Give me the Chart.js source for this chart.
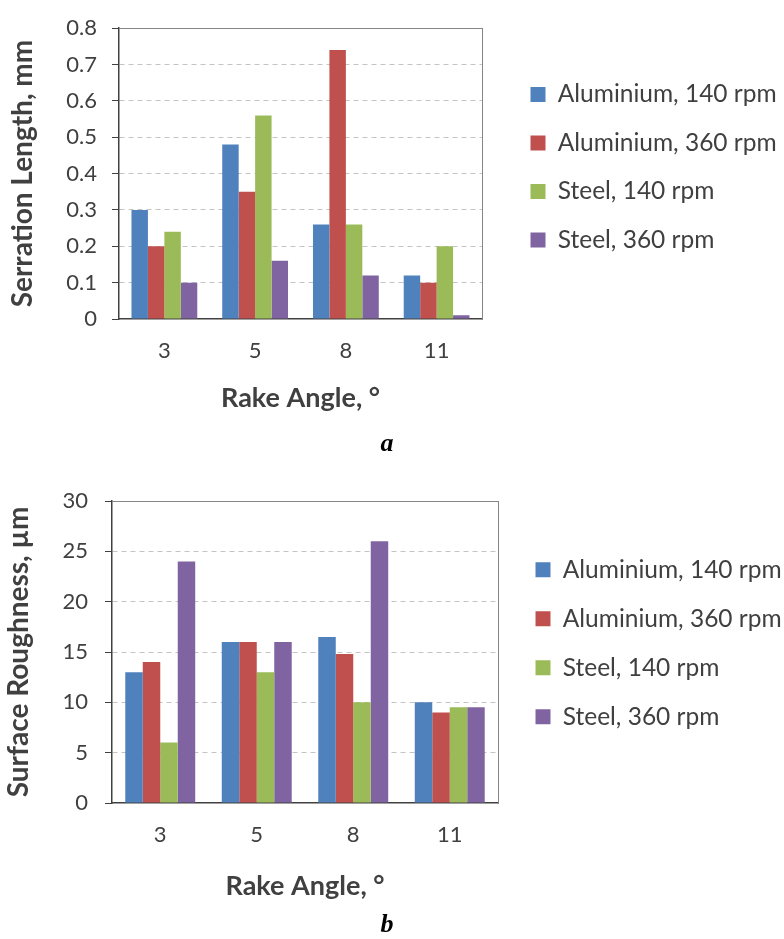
<!DOCTYPE html>
<html>
<head>
<meta charset="utf-8">
<title>Serration length and surface roughness vs rake angle</title>
<script src="https://cdn.jsdelivr.net/npm/chart.js@4.4.1/dist/chart.umd.min.js"></script>
<style>
  html, body { margin: 0; padding: 0; background: #fff; }
  canvas { display: block; }
</style>
</head>
<body>
<canvas id="serrationChart" width="784" height="470"></canvas>
<canvas id="roughnessChart" width="784" height="469"></canvas>
<script>
const rakeAngles = ['3', '5', '8', '11'];
const seriesNames = ['Aluminium, 140 rpm', 'Aluminium, 360 rpm', 'Steel, 140 rpm', 'Steel, 360 rpm'];
const seriesColors = ['#4F81BD', '#C0504D', '#9BBB59', '#8064A2'];

// chart a - serration length, mm
const serrationAl140 = [0.30, 0.48, 0.26, 0.12];
const serrationAl360 = [0.20, 0.35, 0.74, 0.10];
const serrationSt140 = [0.24, 0.56, 0.26, 0.20];
const serrationSt360 = [0.10, 0.16, 0.12, 0.01];

// chart b - surface roughness, µm
const roughnessAl140 = [13, 16, 16.5, 10];
const roughnessAl360 = [14, 16, 14.8, 9];
const roughnessSt140 = [6, 13, 10, 9.5];
const roughnessSt360 = [24, 16, 26, 9.5];

const textColor = '#404040';
const baseFont = 'Lato, "Open Sans", sans-serif';
const letterFont = '"Liberation Serif", "Times New Roman", serif';

// solid grey line along the top of the plot area
const plotFrame = {
    id: 'plotFrame',
    beforeDatasetsDraw(chart) {
        const { ctx, chartArea: a } = chart;
        ctx.save();
        ctx.strokeStyle = '#868686';
        ctx.lineWidth = 1;
        ctx.beginPath();
        ctx.moveTo(a.left, Math.round(a.top) + 0.5);
        ctx.lineTo(a.right, Math.round(a.top) + 0.5);
        ctx.stroke();
        ctx.restore();
    }
};

function buildChart(canvasId, cfg) {
    return new Chart(document.getElementById(canvasId), {
        type: 'bar',
        data: {
            labels: rakeAngles,
            datasets: cfg.values.map((vals, i) => ({
                label: seriesNames[i],
                data: vals,
                backgroundColor: seriesColors[i],
                borderWidth: 0,
                categoryPercentage: 0.725,
                barPercentage: 1
            }))
        },
        options: {
            responsive: false,
            animation: false,
            devicePixelRatio: 1,
            // left -10 so the a/b caption centres at x=387 like the original
            layout: { padding: { top: cfg.padTop, right: 0, bottom: 0, left: -10 } },
            scales: {
                x: {
                    grid: { display: false },
                    border: { display: true, color: textColor, width: 1.5 },
                    ticks: { color: textColor, padding: 11, font: { family: baseFont, size: 22 } },
                    title: {
                        display: true,
                        text: 'Rake Angle, °',
                        color: textColor,
                        font: { family: baseFont, size: 27, weight: 'bold' },
                        padding: { top: 0, bottom: 0 }
                    },
                    afterFit: s => { s.height = cfg.xHeight; }
                },
                y: {
                    min: 0,
                    max: cfg.max,
                    ticks: {
                        stepSize: cfg.step,
                        color: textColor,
                        padding: cfg.tickPad,
                        font: { family: baseFont, size: 22 }
                    },
                    grid: {
                        color: c => (c.tick && c.tick.value === 0) ? 'rgba(0,0,0,0)' : '#C4C4C4',
                        tickColor: textColor,
                        tickLength: 7,
                        lineWidth: 1
                    },
                    border: { display: true, color: textColor, width: 1.5, dash: [5, 4] },
                    title: {
                        display: true,
                        text: cfg.yTitle,
                        color: textColor,
                        font: { family: baseFont, size: 28, weight: 'bold' },
                        padding: { top: cfg.yTitlePad, bottom: 0 }
                    },
                    afterFit: s => { s.width = cfg.yWidth; }
                },
                gap: {
                    type: 'linear',
                    position: 'right',
                    display: true,
                    grid: { display: false, drawTicks: false },
                    ticks: { display: false },
                    border: { display: true, color: '#868686', width: 1 },
                    afterFit: s => { s.width = cfg.gap; }
                }
            },
            plugins: {
                legend: {
                    position: 'right',
                    align: 'start',
                    fullSize: false,
                    maxWidth: cfg.legendWidth,
                    // empty title only used to push the entries down
                    title: { display: true, text: ' ', font: { size: 10, lineHeight: 1 }, padding: { top: cfg.legendOffset, bottom: 0 } },
                    labels: {
                        boxWidth: 15,
                        boxHeight: 15,
                        padding: cfg.legendPad,
                        color: textColor,
                        font: { family: baseFont, size: 24.5 }
                    }
                },
                title: {
                    display: true,
                    text: cfg.letter,
                    position: 'bottom',
                    color: '#000',
                    font: { family: letterFont, size: 26, style: 'italic', weight: 'bold', lineHeight: 1 },
                    padding: cfg.letterPad
                },
                tooltip: { enabled: false }
            }
        },
        plugins: [plotFrame]
    });
}

buildChart('serrationChart', {
    values: [serrationAl140, serrationAl360, serrationSt140, serrationSt360],
    max: 0.8, step: 0.1,
    yTitle: 'Serration Length, mm', yTitlePad: 16.2,
    yWidth: 129, tickPad: 15,
    padTop: 18, xHeight: 95,
    gap: 24.5, legendWidth: 277.5, legendPad: 24, legendOffset: 20,
    letter: 'a', letterPad: { top: 17.2, bottom: 12.8 }
});

buildChart('roughnessChart', {
    values: [roughnessAl140, roughnessAl360, roughnessSt140, roughnessSt360],
    max: 30, step: 5,
    yTitle: 'Surface Roughness, µm', yTitlePad: 12.2,
    yWidth: 122, tickPad: 17,
    padTop: 31, xHeight: 99,
    gap: 13, legendWidth: 273, legendPad: 24.5, legendOffset: 22,
    letter: 'b', letterPad: { top: 10.2, bottom: 0.8 }
});
</script>
</body>
</html>
